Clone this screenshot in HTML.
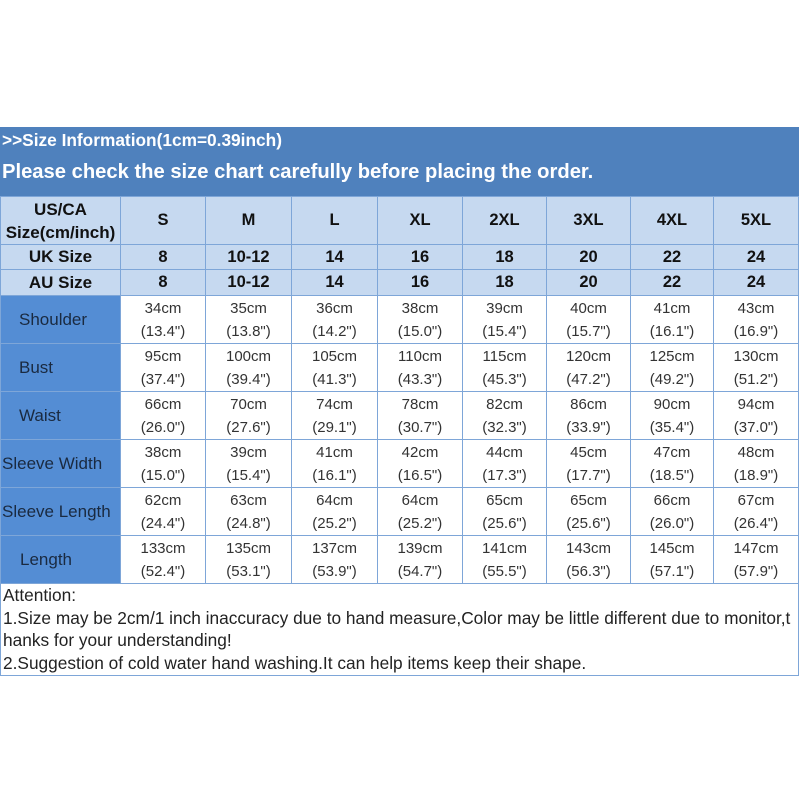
<!DOCTYPE html>
<html><head><meta charset="utf-8"><style>
body{margin:0;width:800px;height:800px;background:#fff;position:relative;overflow:hidden;font-family:"Liberation Sans",Arial,sans-serif;}
.ban{position:absolute;left:0;top:127px;width:799px;height:70px;background:#4f81bd;color:#fff;font-weight:bold;}
.ban .a{position:absolute;left:2px;top:3px;font-size:17.3px;}
.ban .b{position:absolute;left:2px;top:34px;font-size:20.2px;}
table{position:absolute;left:0;top:196px;border-collapse:collapse;table-layout:fixed;width:798px;}
td{border:1.5px solid #7ea6d8;text-align:center;padding:0;color:#222;}
tr.h td{background:#c6d9f0;font-weight:bold;font-size:16.5px;color:#111;}
tr.d td{font-size:15px;line-height:23px;color:#333;}
tr.d td.l{background:#548dd4;font-size:17px;color:#1a2a40;text-align:left;font-weight:normal;}
.att{position:absolute;left:0;top:584px;width:797px;height:91px;border:1.5px solid #7ea6d8;border-top:none;font-size:17.3px;color:#222;line-height:22.5px;}
</style></head><body>
<div class="ban"><div class="a">&gt;&gt;Size Information(1cm=0.39inch)</div><div class="b">Please check the size chart carefully before placing the order.</div></div>
<table>
<colgroup><col style="width:120px"><col style="width:85px"><col style="width:86px"><col style="width:86px"><col style="width:85px"><col style="width:84px"><col style="width:84px"><col style="width:83px"><col style="width:85px"></colgroup>
<tr class="h" style="height:48px"><td style="line-height:23px;font-size:17px">US/CA<br>Size(cm/inch)</td><td>S</td><td>M</td><td>L</td><td>XL</td><td>2XL</td><td>3XL</td><td>4XL</td><td>5XL</td></tr>
<tr class="h" style="height:25px"><td style="font-size:17px">UK Size</td><td>8</td><td>10-12</td><td>14</td><td>16</td><td>18</td><td>20</td><td>22</td><td>24</td></tr>
<tr class="h" style="height:26px"><td style="font-size:17px">AU Size</td><td>8</td><td>10-12</td><td>14</td><td>16</td><td>18</td><td>20</td><td>22</td><td>24</td></tr>
<tr class="d" style="height:48px"><td class="l" style="padding-left:18px">Shoulder</td><td>34cm<br>(13.4")</td><td>35cm<br>(13.8")</td><td>36cm<br>(14.2")</td><td>38cm<br>(15.0")</td><td>39cm<br>(15.4")</td><td>40cm<br>(15.7")</td><td>41cm<br>(16.1")</td><td>43cm<br>(16.9")</td></tr>
<tr class="d" style="height:48px"><td class="l" style="padding-left:18px">Bust</td><td>95cm<br>(37.4")</td><td>100cm<br>(39.4")</td><td>105cm<br>(41.3")</td><td>110cm<br>(43.3")</td><td>115cm<br>(45.3")</td><td>120cm<br>(47.2")</td><td>125cm<br>(49.2")</td><td>130cm<br>(51.2")</td></tr>
<tr class="d" style="height:48px"><td class="l" style="padding-left:18px">Waist</td><td>66cm<br>(26.0")</td><td>70cm<br>(27.6")</td><td>74cm<br>(29.1")</td><td>78cm<br>(30.7")</td><td>82cm<br>(32.3")</td><td>86cm<br>(33.9")</td><td>90cm<br>(35.4")</td><td>94cm<br>(37.0")</td></tr>
<tr class="d" style="height:48px"><td class="l" style="padding-left:1px">Sleeve Width</td><td>38cm<br>(15.0")</td><td>39cm<br>(15.4")</td><td>41cm<br>(16.1")</td><td>42cm<br>(16.5")</td><td>44cm<br>(17.3")</td><td>45cm<br>(17.7")</td><td>47cm<br>(18.5")</td><td>48cm<br>(18.9")</td></tr>
<tr class="d" style="height:48px"><td class="l" style="padding-left:1px">Sleeve Length</td><td>62cm<br>(24.4")</td><td>63cm<br>(24.8")</td><td>64cm<br>(25.2")</td><td>64cm<br>(25.2")</td><td>65cm<br>(25.6")</td><td>65cm<br>(25.6")</td><td>66cm<br>(26.0")</td><td>67cm<br>(26.4")</td></tr>
<tr class="d" style="height:48px"><td class="l" style="padding-left:19px">Length</td><td>133cm<br>(52.4")</td><td>135cm<br>(53.1")</td><td>137cm<br>(53.9")</td><td>139cm<br>(54.7")</td><td>141cm<br>(55.5")</td><td>143cm<br>(56.3")</td><td>145cm<br>(57.1")</td><td>147cm<br>(57.9")</td></tr>
</table>
<div class="att"><div style="padding:0 0 0 2px;white-space:nowrap">Attention:<br>1.Size may be 2cm/1 inch inaccuracy due to hand measure,Color may be little different due to monitor,t<br>hanks for your understanding!<br>2.Suggestion of cold water hand washing.It can help items keep their shape.</div></div>
</body></html>
